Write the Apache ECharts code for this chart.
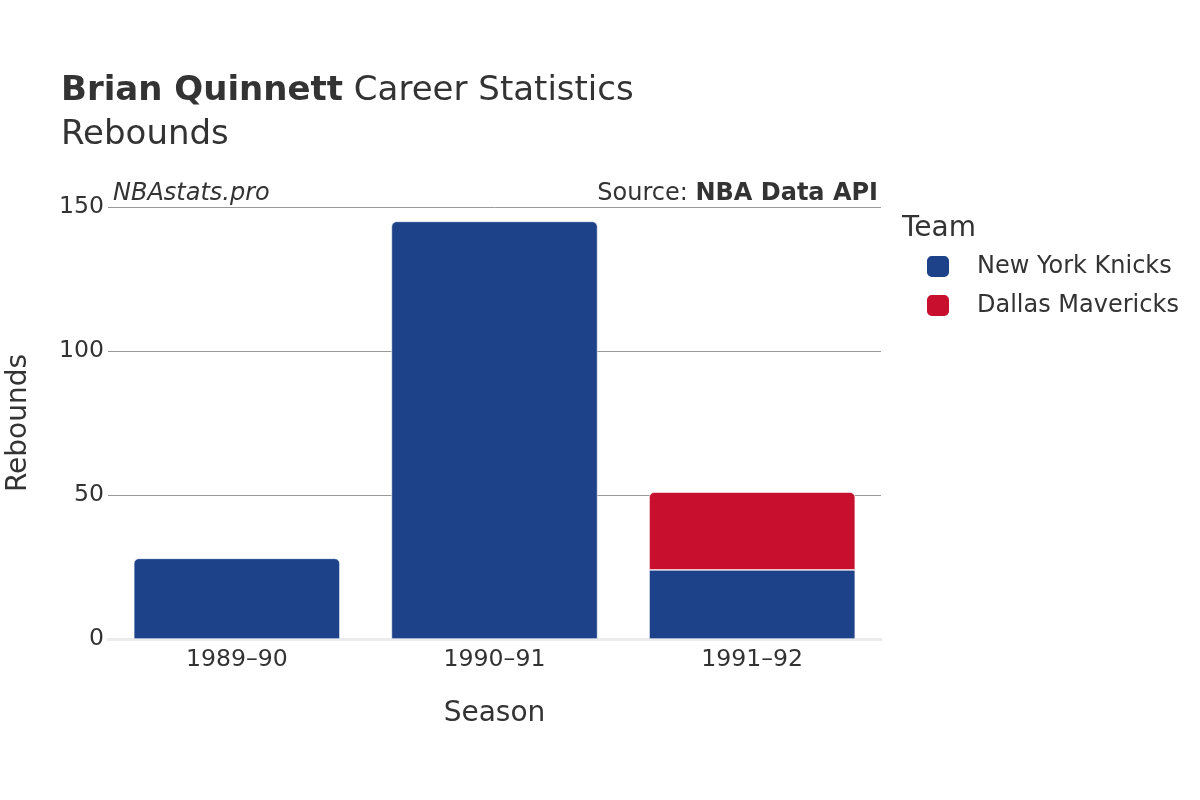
<!DOCTYPE html>
<html>
<head>
<meta charset="utf-8">
<script src="https://cdn.jsdelivr.net/npm/echarts@6/dist/echarts.min.js"></script>
<style>html,body{margin:0;padding:0;background:#fff}#c{width:1200px;height:800px}</style>
</head>
<body>
<div id="c"></div>
<script>
const seasons = ['1989–90', '1990–91', '1991–92'];
const knicks = [28, 145, 24];
const mavericks = [null, null, 27];
const teamNames = ['New York Knicks', 'Dallas Mavericks'];
const teamColors = ['#1d4289', '#c8102e'];
const yTicks = [0, 50, 100, 150];

const FONT = 'DejaVu Sans';
const chart = echarts.init(document.getElementById('c'), null, {renderer: 'canvas'});

const knicksData = knicks.map((v, i) => ({
  value: v,
  itemStyle: { borderRadius: mavericks[i] == null ? [5, 5, 0, 0] : 0 }
}));
const mavsData = mavericks.map(v => ({
  value: v,
  itemStyle: { borderRadius: [5, 5, 0, 0] }
}));

chart.setOption({
  animation: false,
  textStyle: { fontFamily: FONT },
  title: {
    left: 56, top: 64,
    text: '{b|Brian Quinnett} Career Statistics\nRebounds',
    textStyle: {
      fontFamily: FONT, fontSize: 34, color: '#333', fontWeight: 'normal', lineHeight: 44,
      rich: { b: { fontFamily: FONT, fontSize: 34, fontWeight: 'bold', color: '#333' } }
    }
  },
  graphic: [
    { type: 'text', left: 113, top: 182, style: { text: 'NBAstats.pro', font: 'italic 24px "DejaVu Sans"', fill: '#333' } },
    { type: 'text', right: 1200 - 878, top: 182, style: { text: 'Source: {b|NBA Data API}', font: '24px "DejaVu Sans"', fill: '#333', rich: { b: { font: 'bold 24px "DejaVu Sans"', fill: '#333' } } } },
    { type: 'text', left: 902, top: 215, style: { text: 'Team', font: '28px "DejaVu Sans"', fill: '#333' } }
  ],
  legend: {
    orient: 'vertical', left: 920, top: 249,
    itemWidth: 24, itemHeight: 23, itemGap: 14,
    icon: 'roundRect',
    data: teamNames,
    textStyle: { fontFamily: FONT, fontSize: 24, color: '#333', padding: [0, 0, 0, 22] }
  },
  grid: { left: 108, right: 319, top: 207, bottom: 161, containLabel: false, outerBoundsMode: 'none' },
  xAxis: {
    type: 'category', data: seasons,
    name: 'Season', nameLocation: 'middle', nameGap: 61,
    nameTextStyle: { fontFamily: FONT, fontSize: 28, color: '#333' },
    axisTick: { show: false },
    axisLine: { lineStyle: { color: '#ebebeb', width: 3 } },
    axisLabel: { fontFamily: FONT, fontSize: 23.6, color: '#333', margin: 9 }
  },
  yAxis: {
    type: 'value', min: yTicks[0], max: yTicks[yTicks.length - 1], interval: 50,
    name: 'Rebounds', nameLocation: 'middle', nameGap: 75,
    nameTextStyle: { fontFamily: FONT, fontSize: 28, color: '#333' },
    axisLine: { show: false }, axisTick: { show: false },
    axisLabel: { fontFamily: FONT, fontSize: 23.6, color: '#333', margin: 4, padding: [3, 0, 0, 0] },
    splitLine: { showMinLine: false, lineStyle: { color: '#999', width: 1 } }
  },
  series: [
    { name: teamNames[0], type: 'bar', stack: 't', data: knicksData, barWidth: '80%',
      itemStyle: { color: teamColors[0], borderColor: '#fff', borderWidth: 0.6 } },
    { name: teamNames[1], type: 'bar', stack: 't', data: mavsData, barWidth: '80%',
      itemStyle: { color: teamColors[1], borderColor: '#fff', borderWidth: 0.6 } }
  ]
});
</script>
</body>
</html>
